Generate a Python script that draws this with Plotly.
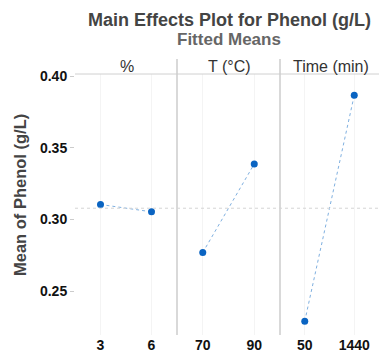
import plotly.graph_objects as go

factors = ["%", "T (°C)", "Time (min)"]
levels = [["3", "6"], ["70", "90"], ["50", "1440"]]
means = [[0.3104, 0.3053], [0.2769, 0.3387], [0.2290, 0.3866]]
overall_mean = 0.3078
y_ticks = [0.25, 0.30, 0.35, 0.40]

W, H = 379, 354
def px(x): return x / W
def py(y): return 1 - y / H

x_edges = [75, 177, 280, 379]
y_top, y_bot, y_head = 74, 335, 59

fig = go.Figure()
axnames = ["x", "x2", "x3"]
for i, (lv, mv) in enumerate(zip(levels, means)):
    fig.add_trace(go.Scatter(
        x=lv, y=mv, xaxis=axnames[i], yaxis="y", mode="lines+markers",
        line=dict(color="#7fb0e0", width=1, dash="dot"),
        marker=dict(color="#0a64c2", size=7), showlegend=False))

layout = dict(
    width=W, height=H, margin=dict(l=0, r=0, t=0, b=0),
    plot_bgcolor="white", paper_bgcolor="white",
    font=dict(family="Liberation Sans, Arial", color="#222"),
    yaxis=dict(domain=[py(y_bot), py(y_top)], range=[0.2194, 0.4014],
               tickvals=y_ticks, ticktext=[f"{v:.2f}" for v in y_ticks],
               tickfont=dict(size=14, color="#111", weight="bold"),
               ticks="outside", ticklen=4, tickcolor="#ccc",
               showgrid=False, zeroline=False, showline=False,
               anchor="x", automargin=False),
)
for i in range(3):
    key = "xaxis" if i == 0 else f"xaxis{i+1}"
    layout[key] = dict(
        domain=[px(x_edges[i]), px(x_edges[i + 1])], type="category",
        categoryorder="array", categoryarray=levels[i], range=[-0.5, 1.5],
        anchor="y", showgrid=True, gridcolor="#f4f4f4", gridwidth=1,
        zeroline=False, showline=False, ticks="",
        tickfont=dict(size=14, color="#111", weight="bold"),
        automargin=False)
fig.update_layout(**layout)

shapes = []
shapes.append(dict(type="line", xref="paper", yref="paper",
                   x0=px(75), x1=1, y0=py(y_top), y1=py(y_top),
                   line=dict(color="#d0d0d0", width=1)))
for xe in x_edges[1:3]:
    shapes.append(dict(type="line", xref="paper", yref="paper",
                       x0=px(xe), x1=px(xe), y0=py(y_head), y1=py(y_bot),
                       line=dict(color="#cccccc", width=1.5)))
shapes.append(dict(type="line", xref="paper", yref="y",
                   x0=px(75), x1=1, y0=overall_mean, y1=overall_mean,
                   line=dict(color="#d5d5d5", width=1, dash="dot")))
fig.update_layout(shapes=shapes)

ann = [
    dict(text="<b>Main Effects Plot for Phenol (g/L)</b>", x=px(229), y=py(20),
         font=dict(size=18, color="#444")),
    dict(text="<b>Fitted Means</b>", x=px(229), y=py(39),
         font=dict(size=17, color="#666")),
    dict(text="<b>Mean of Phenol (g/L)</b>", x=px(20), y=py(195), textangle=-90,
         font=dict(size=16.5, color="#444")),
]
for i, f in enumerate(factors):
    ann.append(dict(text=f, x=px((x_edges[i] + x_edges[i + 1]) / 2 + 1), y=py(67),
                    font=dict(size=16, color="#333")))
for a in ann:
    a.update(xref="paper", yref="paper", showarrow=False,
             xanchor="center", yanchor="middle")
fig.update_layout(annotations=ann)

fig.write_html("out.html")
